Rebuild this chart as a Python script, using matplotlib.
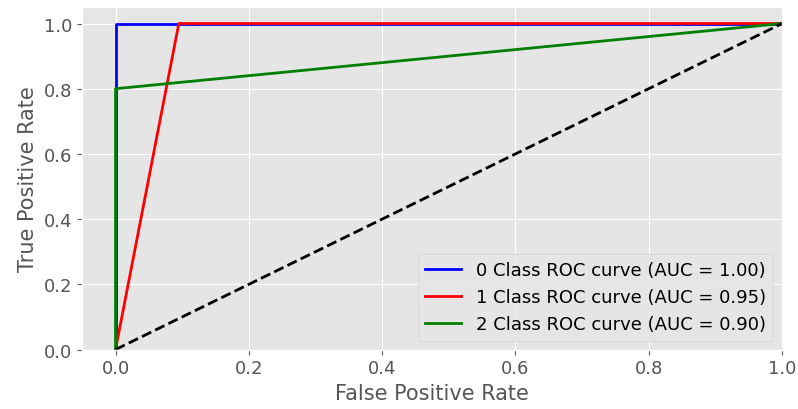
import numpy as np
import matplotlib.pyplot as plt

plt.style.use('ggplot')

class_names = ['0', '1', '2']
fpr_list = [[0.0, 0.0, 1.0], [0.0, 0.095, 1.0], [0.0, 0.0, 1.0]]
tpr_list = [[0.0, 1.0, 1.0], [0.0, 1.0, 1.0], [0.0, 0.8, 1.0]]
auc_list = [1.00, 0.95, 0.90]
colors = ['blue', 'red', 'green']

fig, ax = plt.subplots(figsize=(7.98, 4.10), dpi=100)
for name, fpr, tpr, auc, c in zip(class_names, fpr_list, tpr_list, auc_list, colors):
    ax.plot(fpr, tpr, color=c, lw=2,
            label='{} Class ROC curve (AUC = {:.2f})'.format(name, auc))
ax.plot([0, 1], [0, 1], 'k--', lw=2)
ax.set_xlim(-0.05, 1.0)
ax.set_ylim(0.0, 1.05)
ax.set_xlabel('False Positive Rate', fontsize=15)
ax.set_ylabel('True Positive Rate', fontsize=15)
ax.tick_params(labelsize=13)
ax.legend(loc='lower right', fontsize=13)
fig.subplots_adjust(left=0.103, right=0.98, top=0.98, bottom=0.145)
fig.savefig('out.png')
